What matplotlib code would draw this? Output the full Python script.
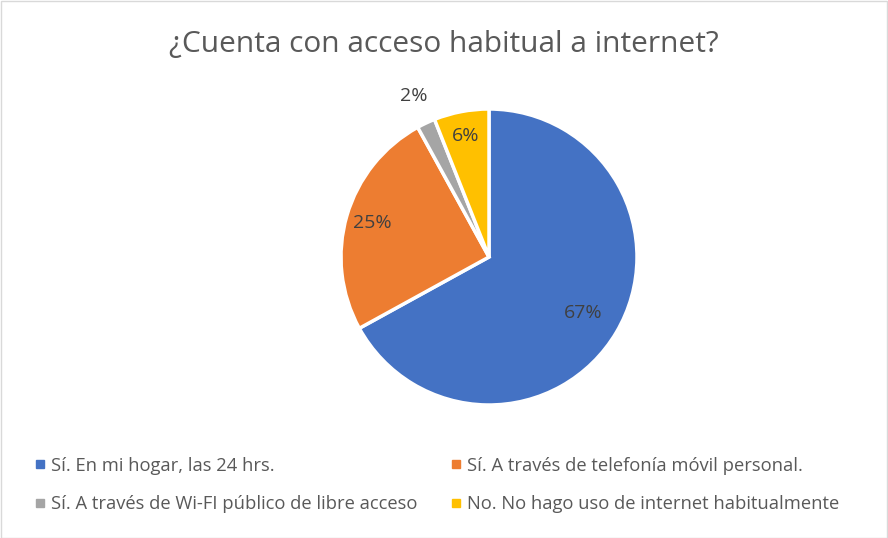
import matplotlib.pyplot as plt
from matplotlib.patches import Rectangle
from matplotlib.lines import Line2D
import numpy as np

plt.rcParams['font.family'] = ['Open Sans', 'DejaVu Sans']

# Data
categories = ["Sí. En mi hogar, las 24 hrs.",
              "Sí. A través de telefonía móvil personal.",
              "Sí. A través de Wi-FI público de libre acceso",
              "No. No hago uso de internet habitualmente"]
values = [67, 25, 2, 6]
colors = ['#4472C4', '#ED7D31', '#A5A5A5', '#FFC000']
title = "¿Cuenta con acceso habitual a internet?"

W, H = 888, 538
fig = plt.figure(figsize=(W / 100, H / 100), dpi=100)
fig.patch.set_facecolor('white')

# Pie axes: centre (489, 257) px, radius ~148 px
cx, cy, r = 489, 257, 148
box = 150
ax = fig.add_axes([(cx - box) / W, (H - cy - box) / H, 2 * box / W, 2 * box / H])
wedges, texts, autotexts = ax.pie(values, colors=colors, startangle=90, counterclock=False,
                                  radius=r / box, autopct='%1.0f%%', pctdistance=0.8,
                                  wedgeprops=dict(edgecolor='white', linewidth=2.5),
                                  textprops=dict(color='#404040', fontsize=14))
ax.set_xlim(-1, 1)
ax.set_ylim(-1, 1)
ax.set_aspect('equal')
ax.axis('off')

# Label distances (fraction of radius) as placed in the reference
dist = [0.74, 0.82, 1.2, 0.83]
for w, t, d in zip(wedges, autotexts, dist):
    ang = np.deg2rad((w.theta1 + w.theta2) / 2)
    t.set_position((d * w.r * np.cos(ang), d * w.r * np.sin(ang)))

fig.text(0.5, 1 - 44 / H, title, ha='center', va='center', fontsize=21.5, color='#595959')

# Legend: matplotlib fills columns first
order = [0, 2, 1, 3]
handles = [Line2D([], [], marker='s', linestyle='none', markersize=6,
                  markerfacecolor=colors[i], markeredgecolor=colors[i]) for i in order]
labels = [categories[i] for i in order]
fig.legend(handles, labels, ncol=2, loc='center left', bbox_to_anchor=(14 / W, 1 - 485 / H),
           frameon=False, fontsize=13.2, labelcolor='#595959', handletextpad=0.1,
           handlelength=1.0, columnspacing=1.6, labelspacing=1.1)

fig.patches.append(Rectangle((0.5 / W, 0.5 / H), 1 - 1.5 / W, 1 - 1.5 / H, transform=fig.transFigure,
                             fill=False, edgecolor='#D9D9D9', linewidth=1))

fig.savefig('out.png', dpi=100)
